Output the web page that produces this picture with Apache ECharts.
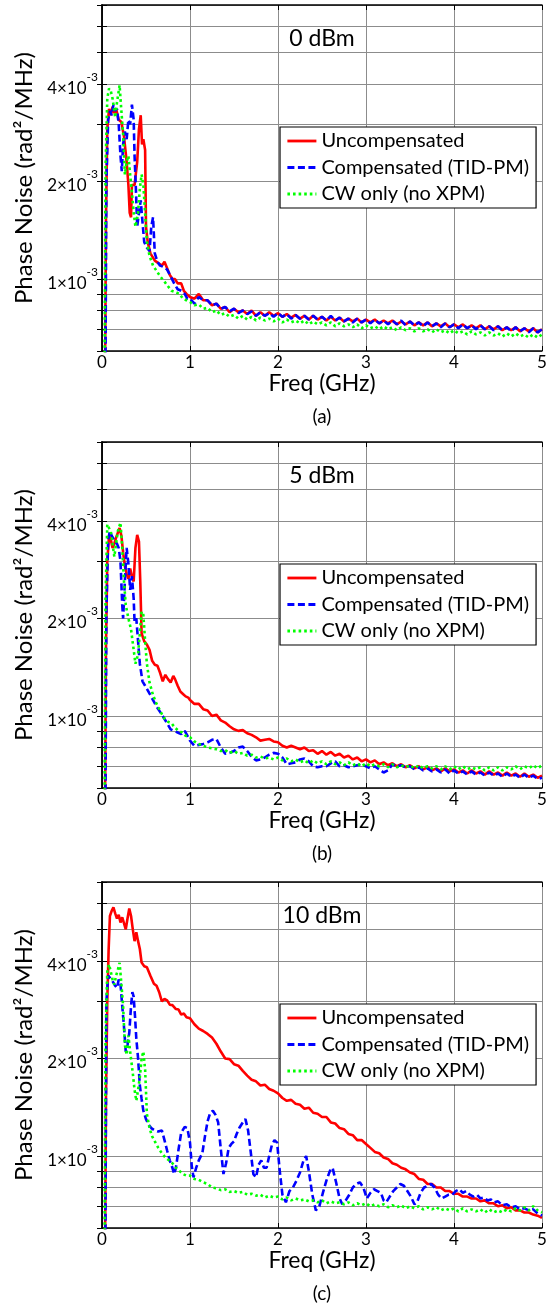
<!DOCTYPE html>
<html><head><meta charset="utf-8">
<script src="https://cdn.jsdelivr.net/npm/echarts@6/dist/echarts.min.js"></script>
<style>html,body{margin:0;padding:0;background:#fff}#c{width:558px;height:1307px}</style>
</head><body><div id="c"></div>
<script>
// ---------- DATA (phase noise values in units of 1e-3 rad^2/MHz, frequency in GHz) ----------
const seriesNames = ['Uncompensated', 'Compensated (TID-PM)', 'CW only (no XPM)'];
const panelTitles = ['0 dBm', '5 dBm', '10 dBm'];
const captions = ['(a)', '(b)', '(c)'];
const xTickLabels = [0, 1, 2, 3, 4, 5];
const yGridValues = [0.6, 0.7, 0.8, 0.9, 1, 2, 3, 4, 5, 6, 7];
const yLabelValues = [1, 2, 4];

const tailFreq = [1.00,1.05,1.10,1.15,1.20,1.25,1.30,1.35,1.40,1.45,1.50,1.55,1.60,1.65,1.70,1.75,1.80,1.85,1.90,1.95,
2.00,2.05,2.10,2.15,2.20,2.25,2.30,2.35,2.40,2.45,2.50,2.55,2.60,2.65,2.70,2.75,2.80,2.85,2.90,2.95,
3.00,3.05,3.10,3.15,3.20,3.25,3.30,3.35,3.40,3.45,3.50,3.55,3.60,3.65,3.70,3.75,3.80,3.85,3.90,3.95,
4.00,4.05,4.10,4.15,4.20,4.25,4.30,4.35,4.40,4.45,4.50,4.55,4.60,4.65,4.70,4.75,4.80,4.85,4.90,4.95,5.00];

// Panel (a) 0 dBm
const aUncHead = [[0.03,0.3],[0.045,1.5],[0.06,2.9],[0.08,3.35],[0.1,3.2],[0.12,3.4],[0.14,3.25],[0.16,3.35],[0.19,3.1],[0.22,3.05],[0.25,2.75],[0.28,2.3],[0.3,1.95],[0.315,1.6],[0.33,1.55],[0.34,1.95],[0.37,1.95],[0.4,2.3],[0.42,2.9],[0.44,3.2],[0.455,2.6],[0.47,2.7],[0.49,2.5],[0.5,1.45],[0.52,1.3],[0.55,1.2],[0.6,1.14],[0.64,1.12],[0.68,1.1],[0.71,1.13],[0.74,1.08],[0.77,1.03],[0.8,1.0],[0.83,1.0],[0.86,0.97],[0.9,0.97],[0.93,0.92],[0.96,0.9]];
const aUncTail = [0.88,0.87,0.90,0.86,0.86,0.83,0.84,0.81,0.82,0.79,0.81,0.79,0.80,0.78,0.80,0.77,0.79,0.77,0.79,0.77,
0.785,0.765,0.78,0.76,0.775,0.755,0.77,0.75,0.77,0.75,0.765,0.745,0.765,0.745,0.76,0.74,0.755,0.74,0.755,0.735,
0.75,0.735,0.75,0.73,0.745,0.73,0.745,0.725,0.74,0.725,0.74,0.72,0.735,0.72,0.735,0.715,0.73,0.715,0.73,0.71,
0.725,0.71,0.725,0.705,0.72,0.705,0.72,0.70,0.715,0.70,0.715,0.695,0.71,0.695,0.71,0.69,0.705,0.69,0.705,0.685,0.70];
const aCompHead = [[0.035,0.3],[0.05,2.0],[0.07,3.1],[0.09,3.3],[0.11,3.2],[0.13,3.45],[0.15,3.3],[0.17,3.35],[0.19,3.0],[0.21,2.4],[0.225,2.15],[0.24,2.6],[0.26,2.85],[0.28,2.7],[0.3,3.1],[0.32,3.0],[0.34,3.45],[0.36,3.1],[0.37,2.4],[0.385,1.9],[0.4,1.45],[0.42,1.6],[0.44,1.75],[0.46,1.5],[0.48,1.3],[0.51,1.25],[0.54,1.22],[0.56,1.45],[0.58,1.55],[0.6,1.2],[0.63,1.13],[0.66,1.1],[0.7,1.09],[0.74,1.07],[0.78,1.02],[0.82,0.97],[0.86,0.93],[0.9,0.92],[0.94,0.9],[0.97,0.87]];
const aCompTail = [0.87,0.84,0.88,0.86,0.86,0.83,0.84,0.81,0.82,0.795,0.81,0.785,0.80,0.78,0.795,0.77,0.79,0.77,0.785,0.765,
0.785,0.765,0.78,0.755,0.775,0.755,0.77,0.75,0.77,0.75,0.765,0.745,0.77,0.745,0.76,0.74,0.755,0.735,0.755,0.735,
0.75,0.73,0.75,0.73,0.745,0.725,0.745,0.725,0.745,0.72,0.74,0.72,0.735,0.715,0.735,0.715,0.73,0.71,0.73,0.71,
0.725,0.705,0.725,0.705,0.72,0.70,0.72,0.70,0.715,0.695,0.715,0.695,0.71,0.69,0.71,0.69,0.705,0.685,0.705,0.685,0.70];
const aCwHead = [[0.025,0.3],[0.04,2.2],[0.06,3.6],[0.08,3.87],[0.1,3.8],[0.12,3.6],[0.14,3.3],[0.15,3.15],[0.17,3.5],[0.2,3.96],[0.22,3.3],[0.24,2.8],[0.26,2.1],[0.28,2.3],[0.3,2.4],[0.32,2.1],[0.34,1.85],[0.36,1.6],[0.38,1.45],[0.41,1.6],[0.43,1.9],[0.45,2.1],[0.47,1.95],[0.49,1.6],[0.51,1.3],[0.54,1.18],[0.58,1.1],[0.62,1.06],[0.66,1.02],[0.7,0.99],[0.75,0.95],[0.79,0.92],[0.84,0.91],[0.88,0.9],[0.92,0.87],[0.96,0.86]];
const aCwTail = [0.85,0.83,0.835,0.81,0.815,0.79,0.80,0.775,0.785,0.765,0.775,0.755,0.77,0.75,0.765,0.745,0.76,0.745,0.755,0.74,
0.755,0.735,0.75,0.735,0.745,0.73,0.745,0.725,0.74,0.725,0.735,0.72,0.735,0.715,0.73,0.715,0.725,0.71,0.725,0.705,
0.72,0.705,0.715,0.70,0.715,0.70,0.71,0.695,0.71,0.695,0.705,0.69,0.705,0.69,0.70,0.685,0.70,0.685,0.695,0.68,
0.695,0.68,0.69,0.675,0.69,0.675,0.685,0.67,0.685,0.67,0.68,0.665,0.68,0.665,0.68,0.665,0.675,0.66,0.675,0.66,0.675];

// Panel (b) 5 dBm
const bUncHead = [[0.03,0.3],[0.045,1.6],[0.06,3.0],[0.08,3.6],[0.1,3.5],[0.12,3.3],[0.14,3.4],[0.16,3.55],[0.18,3.5],[0.2,3.8],[0.22,3.6],[0.24,3.2],[0.26,2.9],[0.28,2.75],[0.3,2.65],[0.32,2.85],[0.34,2.7],[0.36,2.6],[0.38,3.3],[0.4,3.62],[0.42,3.45],[0.435,2.6],[0.45,1.8],[0.48,1.7],[0.51,1.66],[0.54,1.6],[0.57,1.48],[0.6,1.44],[0.63,1.43],[0.66,1.36],[0.69,1.28],[0.72,1.34],[0.75,1.3],[0.78,1.27],[0.81,1.33],[0.83,1.3],[0.86,1.24],[0.89,1.19],[0.92,1.17],[0.95,1.15],[0.98,1.14]];
const bUncTail = [1.12,1.09,1.09,1.05,1.04,1.00,1.01,0.97,0.955,0.93,0.91,0.90,0.905,0.885,0.875,0.86,0.84,0.845,0.85,0.835,
0.83,0.81,0.80,0.81,0.80,0.79,0.80,0.78,0.785,0.765,0.78,0.76,0.775,0.755,0.765,0.745,0.755,0.735,0.745,0.725,
0.735,0.72,0.73,0.71,0.72,0.705,0.715,0.70,0.71,0.695,0.705,0.69,0.70,0.685,0.695,0.68,0.69,0.675,0.69,0.675,
0.685,0.67,0.68,0.665,0.68,0.665,0.675,0.66,0.675,0.66,0.67,0.655,0.67,0.655,0.665,0.65,0.665,0.65,0.66,0.645,0.655];
const bCompHead = [[0.035,0.3],[0.05,2.1],[0.07,3.5],[0.09,3.72],[0.11,3.6],[0.13,3.65],[0.15,3.45],[0.17,3.4],[0.19,3.3],[0.21,3.0],[0.23,2.2],[0.24,2.0],[0.26,2.6],[0.28,3.3],[0.3,2.95],[0.32,2.45],[0.34,2.7],[0.36,2.3],[0.37,1.95],[0.39,2.0],[0.41,1.7],[0.43,1.45],[0.46,1.28],[0.49,1.24],[0.52,1.2],[0.55,1.16],[0.58,1.12],[0.62,1.07],[0.66,1.03],[0.7,0.99],[0.74,0.95],[0.78,0.91],[0.82,0.9],[0.86,0.89],[0.9,0.88],[0.94,0.9],[0.97,0.87]];
const bCompTail = [0.84,0.81,0.815,0.82,0.83,0.845,0.85,0.80,0.765,0.77,0.78,0.80,0.805,0.78,0.75,0.73,0.735,0.745,0.76,0.77,
0.765,0.745,0.71,0.715,0.72,0.735,0.74,0.725,0.70,0.695,0.70,0.70,0.715,0.725,0.70,0.705,0.695,0.70,0.705,0.71,
0.70,0.69,0.70,0.685,0.67,0.68,0.71,0.70,0.705,0.695,0.70,0.685,0.695,0.68,0.69,0.675,0.685,0.67,0.685,0.665,
0.68,0.665,0.675,0.66,0.675,0.66,0.67,0.655,0.67,0.655,0.665,0.65,0.665,0.65,0.66,0.645,0.66,0.645,0.655,0.64,0.645];
const bCwHead = [[0.025,0.3],[0.04,2.3],[0.06,3.9],[0.08,3.8],[0.1,3.72],[0.12,3.4],[0.14,3.1],[0.16,3.4],[0.18,3.72],[0.21,3.95],[0.23,3.3],[0.25,2.6],[0.27,2.2],[0.3,2.0],[0.33,1.85],[0.36,1.6],[0.38,1.45],[0.41,1.55],[0.43,1.8],[0.45,2.1],[0.47,2.05],[0.49,1.7],[0.51,1.45],[0.54,1.27],[0.58,1.16],[0.62,1.09],[0.66,1.04],[0.7,0.99],[0.75,0.96],[0.79,0.95],[0.83,0.92],[0.87,0.9],[0.91,0.89],[0.95,0.87]];
const bCwTail = [0.86,0.835,0.82,0.81,0.80,0.795,0.79,0.78,0.785,0.77,0.78,0.765,0.77,0.755,0.76,0.745,0.75,0.74,0.745,0.735,
0.745,0.73,0.74,0.725,0.735,0.72,0.73,0.715,0.73,0.715,0.725,0.71,0.725,0.71,0.72,0.705,0.72,0.705,0.715,0.70,
0.715,0.70,0.71,0.70,0.71,0.695,0.71,0.695,0.705,0.695,0.705,0.69,0.705,0.69,0.70,0.69,0.70,0.685,0.70,0.685,
0.70,0.685,0.70,0.685,0.695,0.685,0.695,0.68,0.695,0.68,0.695,0.68,0.695,0.685,0.70,0.685,0.70,0.69,0.705,0.69,0.705];

// Panel (c) 10 dBm
const cUncHead = [[0.03,0.3],[0.045,1.5],[0.06,3.0],[0.075,4.3],[0.09,5.5],[0.11,5.7],[0.13,5.85],[0.15,5.6],[0.17,5.4],[0.19,5.55],[0.21,5.25],[0.23,5.45],[0.25,5.5],[0.27,5.0],[0.29,5.4],[0.31,5.8],[0.33,5.5],[0.35,5.0],[0.37,4.6],[0.39,4.9],[0.41,4.6],[0.43,4.35],[0.45,3.95],[0.48,3.85],[0.51,3.82],[0.55,3.6],[0.59,3.4],[0.62,3.35],[0.65,3.2],[0.68,3.0],[0.71,3.05],[0.74,3.02],[0.77,2.93],[0.8,2.92],[0.84,2.84],[0.87,2.83],[0.9,2.73],[0.93,2.75],[0.96,2.68]];
const cUncTail = [2.66,2.55,2.47,2.43,2.38,2.32,2.22,2.10,2.00,1.99,1.92,1.90,1.83,1.77,1.72,1.70,1.65,1.66,1.61,1.59,
1.56,1.51,1.48,1.49,1.45,1.44,1.40,1.41,1.36,1.35,1.32,1.32,1.27,1.26,1.22,1.21,1.17,1.16,1.12,1.12,
1.09,1.06,1.03,1.02,0.99,0.98,0.95,0.94,0.92,0.91,0.89,0.88,0.85,0.845,0.82,0.82,0.80,0.80,0.78,0.78,
0.765,0.765,0.75,0.75,0.74,0.74,0.725,0.73,0.715,0.715,0.70,0.705,0.69,0.695,0.68,0.68,0.67,0.67,0.66,0.655,0.645];
const cComp = [[0.035,0.3],[0.05,3.0],[0.07,3.6],[0.09,3.63],[0.11,3.5],[0.13,3.46],[0.15,3.35],[0.17,3.3],[0.19,3.5],[0.21,3.4],[0.23,2.9],[0.25,2.5],[0.27,2.1],[0.29,2.2],[0.31,2.4],[0.33,2.9],[0.345,3.2],[0.36,3.1],[0.375,2.7],[0.39,2.3],[0.41,2.0],[0.43,1.65],[0.45,1.5],[0.47,1.38],[0.5,1.3],[0.53,1.25],[0.56,1.22],[0.6,1.2],[0.64,1.19],[0.68,1.2],[0.71,1.12],[0.74,1.04],[0.77,0.97],[0.8,0.92],[0.82,0.88],[0.84,0.92],[0.87,1.05],[0.9,1.18],[0.94,1.23],[0.97,1.22],[1.0,1.1],[1.02,0.93],[1.04,0.86],[1.07,0.92],[1.1,0.97],[1.14,1.02],[1.17,1.15],[1.2,1.28],[1.23,1.36],[1.26,1.38],[1.29,1.34],[1.32,1.27],[1.35,1.05],[1.38,0.88],[1.41,0.95],[1.44,1.06],[1.47,1.09],[1.5,1.11],[1.53,1.17],[1.56,1.22],[1.6,1.27],[1.63,1.3],[1.66,1.2],[1.69,1.03],[1.72,0.88],[1.75,0.86],[1.78,0.94],[1.81,0.97],[1.84,0.92],[1.87,0.92],[1.9,1.0],[1.93,1.08],[1.96,1.12],[1.99,1.1],[2.02,0.9],[2.05,0.76],[2.09,0.72],[2.13,0.78],[2.17,0.8],[2.21,0.84],[2.25,0.89],[2.29,0.97],[2.32,1.0],[2.35,0.9],[2.39,0.76],[2.43,0.68],[2.47,0.7],[2.51,0.77],[2.55,0.84],[2.59,0.9],[2.62,0.92],[2.66,0.83],[2.7,0.74],[2.73,0.71],[2.77,0.73],[2.81,0.76],[2.85,0.8],[2.89,0.82],[2.93,0.83],[2.97,0.8],[3.01,0.74],[3.05,0.77],[3.09,0.79],[3.13,0.78],[3.17,0.77],[3.2,0.73],[3.23,0.72],[3.27,0.75],[3.31,0.78],[3.35,0.8],[3.39,0.82],[3.43,0.81],[3.47,0.78],[3.51,0.75],[3.55,0.71],[3.58,0.72],[3.62,0.77],[3.66,0.8],[3.7,0.81],[3.74,0.82],[3.78,0.8],[3.82,0.76],[3.86,0.74],[3.9,0.75],[3.94,0.76],[3.98,0.76],[4.02,0.78],[4.06,0.79],[4.1,0.77],[4.14,0.78],[4.18,0.76],[4.22,0.75],[4.26,0.76],[4.3,0.74],[4.34,0.745],[4.38,0.73],[4.42,0.735],[4.46,0.72],[4.5,0.725],[4.55,0.705],[4.6,0.71],[4.65,0.695],[4.7,0.70],[4.75,0.685],[4.8,0.69],[4.85,0.68],[4.9,0.685],[4.95,0.665],[5.0,0.655]];
const cCwHead = [[0.025,0.3],[0.04,2.3],[0.06,3.7],[0.08,3.9],[0.1,3.7],[0.12,3.5],[0.14,3.38],[0.16,3.6],[0.18,3.75],[0.2,3.94],[0.22,3.4],[0.24,2.9],[0.26,2.2],[0.28,2.05],[0.3,2.35],[0.32,2.1],[0.35,1.8],[0.37,1.6],[0.39,1.48],[0.41,1.6],[0.43,1.75],[0.45,2.0],[0.47,2.1],[0.49,1.85],[0.51,1.35],[0.54,1.22],[0.57,1.15],[0.6,1.11],[0.64,1.06],[0.68,1.02],[0.72,0.99],[0.76,0.97],[0.8,0.95],[0.84,0.92],[0.88,0.9],[0.92,0.88],[0.96,0.87]];
const cCwTail = [0.87,0.85,0.845,0.83,0.82,0.80,0.795,0.785,0.79,0.775,0.78,0.77,0.775,0.76,0.765,0.755,0.76,0.745,0.755,0.745,
0.75,0.735,0.745,0.73,0.74,0.73,0.735,0.725,0.73,0.72,0.73,0.715,0.725,0.715,0.72,0.71,0.72,0.705,0.715,0.705,
0.715,0.70,0.71,0.70,0.71,0.695,0.705,0.695,0.705,0.69,0.70,0.69,0.70,0.685,0.695,0.685,0.695,0.68,0.69,0.68,
0.69,0.675,0.69,0.675,0.685,0.675,0.685,0.67,0.685,0.67,0.68,0.67,0.685,0.675,0.69,0.68,0.695,0.68,0.70,0.68,0.67];

// ---------- BUILD ----------
function withTail(head, tail) {
  return head.concat(tailFreq.map((f, i) => [f, tail[i]]));
}
const panelData = [
  [withTail(aUncHead, aUncTail), withTail(aCompHead, aCompTail), withTail(aCwHead, aCwTail)],
  [withTail(bUncHead, bUncTail), withTail(bCompHead, bCompTail), withTail(bCwHead, bCwTail)],
  [withTail(cUncHead, cUncTail), cComp, withTail(cCwHead, cCwTail)]
];

const FONT = 'Lato';
const colors = ['#ff0000', '#0000ff', '#00ff00'];
const dashes = ['solid', [7, 3.5], [2.6, 3]];
const tops = [5, 442, 882];
const GL = 102, GW = 440, GH = 346;

const grid = [], xAxis = [], yAxis = [], series = [], legend = [], title = [];
tops.forEach((t, i) => {
  grid.push({ left: GL, top: t, width: GW, height: GH, show: false });
});
// main axes
tops.forEach((t, i) => {
  xAxis.push({
    type: 'value', gridIndex: i, min: 0, max: 5, interval: 1, position: 'bottom',
    name: 'Freq (GHz)', nameLocation: 'middle', nameGap: 21,
    nameTextStyle: { fontFamily: FONT, fontSize: 23, color: '#000' },
    axisLine: { onZero: false, lineStyle: { color: '#000', width: 1.5 } },
    axisTick: { inside: true, length: 5, lineStyle: { color: '#000' } },
    axisLabel: { fontFamily: FONT, fontSize: 17, color: '#000', margin: 3 },
    splitLine: { show: true, lineStyle: { color: '#8c8c8c', width: 1 } }
  });
  yAxis.push({
    type: 'log', logBase: 10, gridIndex: i, min: 0.6, max: 7, position: 'left',
    name: 'Phase Noise (rad²/MHz)', nameLocation: 'middle', nameGap: 65,
    nameTextStyle: { fontFamily: FONT, fontSize: 24, color: '#000' },
    axisLine: { lineStyle: { color: '#000', width: 1.5 } },
    axisTick: { inside: true, length: 5, customValues: yGridValues, lineStyle: { color: '#000' } },
    minorTick: { show: false },
    axisLabel: {
      customValues: yLabelValues, margin: 4,
      formatter: v => '{m|' + v + '×10}{s|-3}',
      rich: {
        m: { fontFamily: FONT, fontSize: 17, color: '#000', lineHeight: 26, verticalAlign: 'bottom' },
        s: { fontFamily: FONT, fontSize: 12, color: '#000', lineHeight: 12, verticalAlign: 'top' }
      }
    },
    splitLine: { show: true, lineStyle: { color: '#8c8c8c', width: 1 } }
  });
});
// mirror axes (top / right) for the box and inner ticks
tops.forEach((t, i) => {
  xAxis.push({
    type: 'value', gridIndex: i, min: 0, max: 5, interval: 1, position: 'top',
    axisLine: { onZero: false, lineStyle: { color: '#000', width: 1.5 } },
    axisTick: { inside: true, length: 5, lineStyle: { color: '#000' } },
    axisLabel: { show: false }, splitLine: { show: false }
  });
  yAxis.push({
    type: 'log', logBase: 10, gridIndex: i, min: 0.6, max: 7, position: 'right',
    axisLine: { lineStyle: { color: '#000', width: 1.5 } },
    axisTick: { inside: true, length: 5, customValues: yGridValues, lineStyle: { color: '#000' } },
    minorTick: { show: false },
    axisLabel: { show: false }, splitLine: { show: false }
  });
});

tops.forEach((t, i) => {
  seriesNames.forEach((nm, k) => {
    series.push({
      name: nm, type: 'line', xAxisIndex: i, yAxisIndex: i,
      data: panelData[i][k], symbol: 'none', showSymbol: false, clip: true,
      lineStyle: { color: colors[k], width: 2.6, type: dashes[k] },
      itemStyle: { color: colors[k] },
      z: 3 + k, animation: false
    });
  });
  legend.push({
    orient: 'vertical', left: 280, top: t + 122, padding: [4, 7, 4, 6],
    itemWidth: 29, itemHeight: 14, itemGap: 6.5, selectedMode: false,
    borderColor: '#000', borderWidth: 1.2, backgroundColor: '#fff',
    itemStyle: { opacity: 0 },
    lineStyle: { width: 2.8 },
    textStyle: { fontFamily: FONT, fontSize: 20, lineHeight: 20, color: '#000' },
    data: seriesNames.slice()
  });
  title.push({
    text: panelTitles[i], left: GL + GW / 2, top: t + 22, textAlign: 'center', padding: 0,
    textStyle: { fontFamily: FONT, fontSize: 23, fontWeight: 'normal', color: '#000' }
  });
  title.push({
    text: captions[i], left: GL + GW / 2, top: t + GH + 56, textAlign: 'center', padding: 0,
    textStyle: { fontFamily: FONT, fontSize: 19, fontWeight: 'normal', color: '#000' }
  });
});

const chart = echarts.init(document.getElementById('c'), null, { renderer: 'canvas' });
chart.setOption({
  animation: false, backgroundColor: '#fff',
  grid, xAxis, yAxis, series, legend, title
});
</script>
</body></html>
